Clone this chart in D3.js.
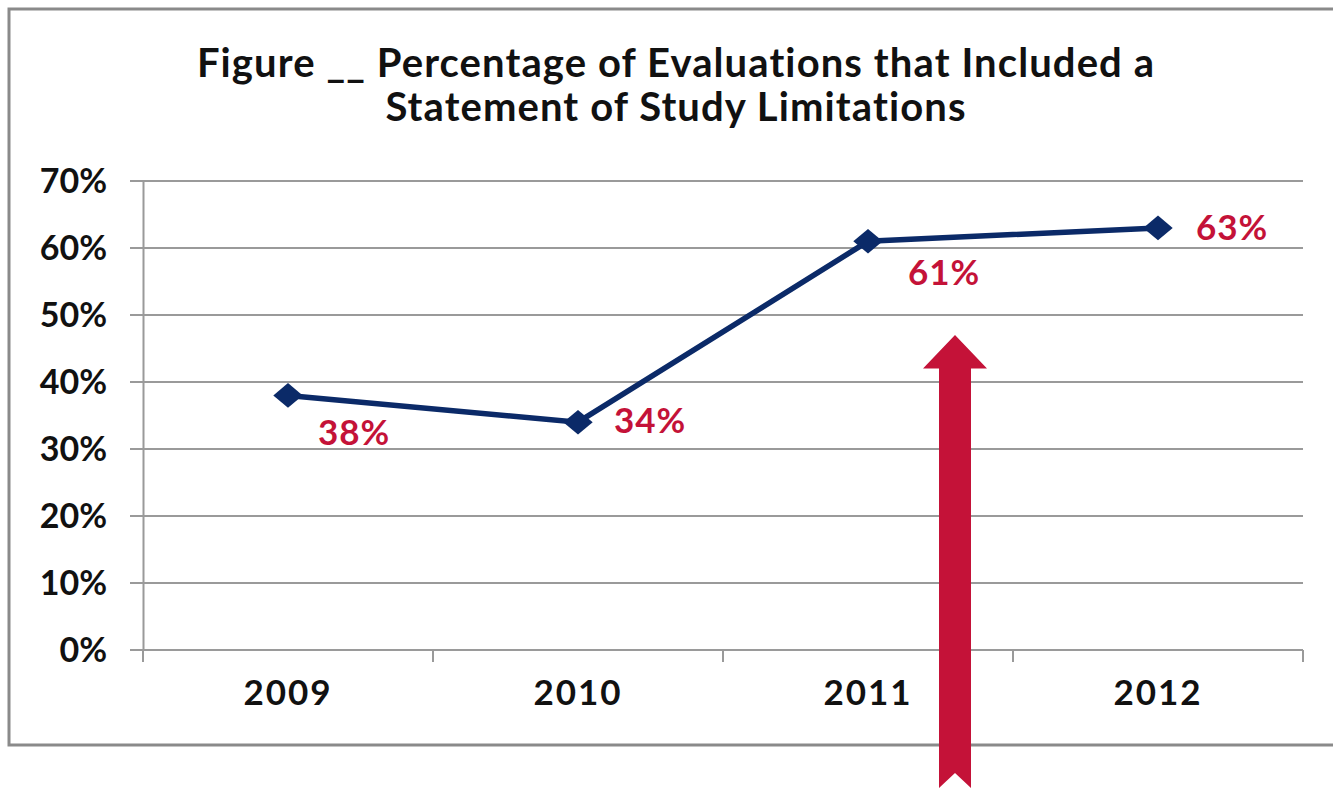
<!DOCTYPE html>
<html>
<head>
<meta charset="utf-8">
<script src="https://cdn.jsdelivr.net/npm/d3@7"></script>
<style>
  body { margin: 0; background: #fff; }
  text { font-family: 'Lato', 'Open Sans', sans-serif; font-weight: bold; font-variant-ligatures: none; }
</style>
</head>
<body>
<div class="vis"></div>
<script>
const years = ['2009', '2010', '2011', '2012']
const values = [0.38, 0.34, 0.61, 0.63]
const yTicks = [0, 0.1, 0.2, 0.3, 0.4, 0.5, 0.6, 0.7]
const titleLines = ['Figure __ Percentage of Evaluations that Included a', 'Statement of Study Limitations']

const w = 1333
const h = 788
const navy = '#0b2a68'
const red = '#c41238'

const svg = d3.select('.vis')
    .append('svg')
    .attr('width', w)
    .attr('height', h)

// 外框 (right side runs off the picture)
svg.append('path')
    .attr('d', 'M1340,9 H9 V745 H1340')
    .attr('fill', 'none')
    .attr('stroke', '#8a8a8a')
    .attr('stroke-width', 3)

// 比例尺
const xScale = d3.scaleBand()
    .domain(years)
    .range([143, 1303])

const yScale = d3.scaleLinear()
    .domain([0, 0.7])
    .range([650, 181])

// 网格线
svg.append('g')
    .selectAll('line')
    .data(yTicks)
    .enter().append('line')
    .attr('x1', 130)
    .attr('x2', 1303)
    .attr('y1', d => yScale(d))
    .attr('y2', d => yScale(d))
    .attr('stroke', '#9a9a9a')
    .attr('stroke-width', 2)

// y轴
const yAxis = d3.axisLeft(yScale)
    .tickValues(yTicks)
    .tickFormat(d3.format('.0%'))
    .tickSize(0)
    .tickPadding(36)

svg.append('g')
    .attr('class', 'y-axis')
    .attr('transform', 'translate(143,0)')
    .call(yAxis)

svg.select('.y-axis').select('.domain')
    .attr('stroke', '#9a9a9a')
    .attr('stroke-width', 2)
svg.select('.y-axis').selectAll('text')
    .attr('font-size', 34)
    .attr('fill', '#111')
    .attr('dy', '0.35em')

// x轴
const xAxis = d3.axisBottom(xScale)
    .tickSize(0)
    .tickPadding(30)

svg.append('g')
    .attr('class', 'x-axis')
    .attr('transform', 'translate(0,650)')
    .call(xAxis)

svg.select('.x-axis').select('.domain').remove()
svg.select('.x-axis').selectAll('text')
    .attr('font-size', 35)
    .attr('letter-spacing', 2)
    .attr('fill', '#111')
    .attr('dy', '0.72em')

// 分类之间的刻度
const bounds = years.map(d => xScale(d)).concat([xScale.range()[1]])
svg.append('g')
    .selectAll('line')
    .data(bounds)
    .enter().append('line')
    .attr('x1', d => d)
    .attr('x2', d => d)
    .attr('y1', yScale(0))
    .attr('y2', yScale(0) + 12)
    .attr('stroke', '#9a9a9a')
    .attr('stroke-width', 2)

// 折线
const cx = d => xScale(d) + xScale.bandwidth() / 2
const line = d3.line()
    .x((d, i) => cx(years[i]))
    .y(d => yScale(d))

svg.append('path')
    .datum(values)
    .attr('d', line)
    .attr('fill', 'none')
    .attr('stroke', navy)
    .attr('stroke-width', 5.5)

svg.selectAll('.marker')
    .data(values)
    .enter().append('path')
    .attr('class', 'marker')
    .attr('d', d3.symbol().type(d3.symbolDiamond2).size(500))
    .attr('transform', (d, i) => 'translate(' + cx(years[i]) + ',' + yScale(d) + ') scale(1.05,0.88)')
    .attr('fill', navy)

// 数据标签
const labelOffset = [[30, 50], [36, 11], [40, 44], [38, 12]]
svg.selectAll('.label')
    .data(values)
    .enter().append('text')
    .attr('class', 'label')
    .attr('x', (d, i) => cx(years[i]) + labelOffset[i][0])
    .attr('y', (d, i) => yScale(d) + labelOffset[i][1])
    .attr('font-size', 35)
    .attr('letter-spacing', 1)
    .attr('fill', red)
    .text(d => d3.format('.0%')(d))

// 标题
svg.append('text')
    .attr('x', 676)
    .attr('y', 77)
    .attr('text-anchor', 'middle')
    .attr('font-size', 40)
    .attr('letter-spacing', 1.1)
    .attr('fill', '#111')
    .selectAll('tspan')
    .data(titleLines)
    .enter().append('tspan')
    .attr('x', 676)
    .attr('dy', (d, i) => i === 0 ? 0 : 44)
    .text(d => d)

// 红色箭头 (annotation)
const ax = cx('2011') + 87
const tip = yScale(0.47)
const base = yScale(0.42)
svg.append('path')
    .attr('d', 'M' + ax + ',' + tip +
        ' L' + (ax + 32) + ',' + base +
        ' L' + (ax + 16) + ',' + base +
        ' L' + (ax + 16) + ',' + h +
        ' L' + ax + ',' + (h - 15) +
        ' L' + (ax - 16) + ',' + h +
        ' L' + (ax - 16) + ',' + base +
        ' L' + (ax - 32) + ',' + base + ' Z')
    .attr('fill', red)
</script>
</body>
</html>
